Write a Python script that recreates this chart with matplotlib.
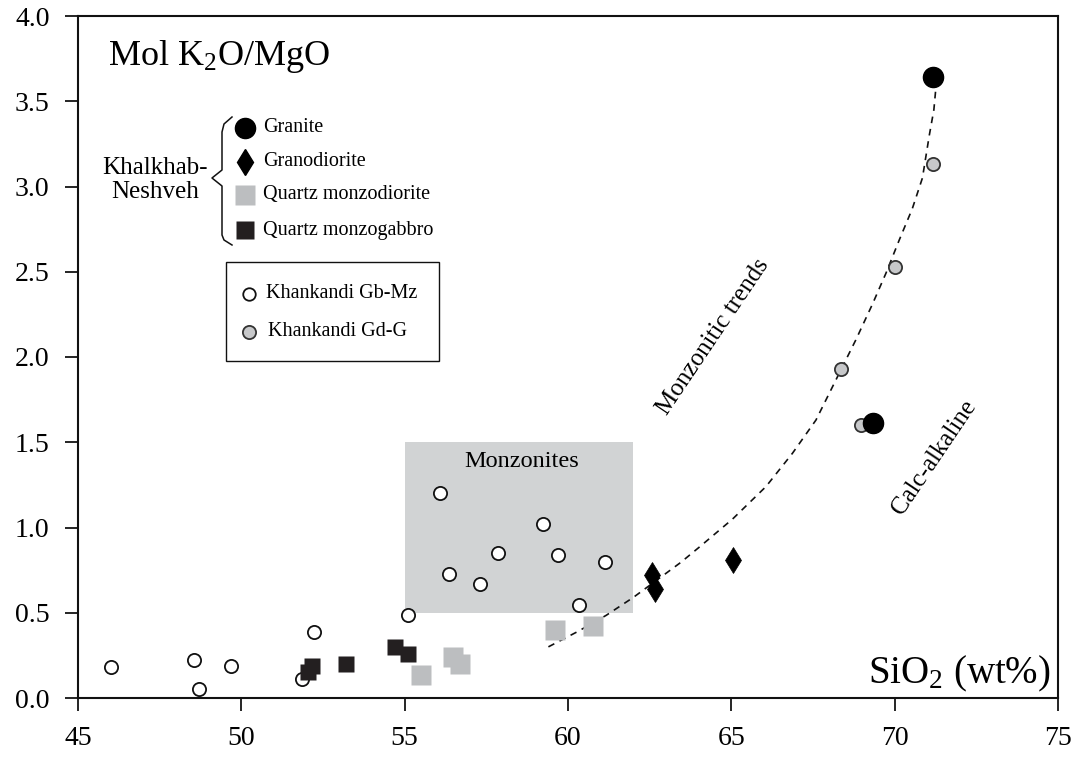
import numpy as np
import matplotlib
matplotlib.use('Agg')
import matplotlib.pyplot as plt
from matplotlib.patches import Rectangle

plt.rcParams['font.family'] = ['Liberation Serif', 'DejaVu Serif']
plt.rcParams['mathtext.default'] = 'regular'

# Khalkhab-Neshveh
granite_x = [71.16, 69.35]
granite_y = [3.64, 1.61]
grd_x = [62.56, 62.66, 65.05]
grd_y = [0.72, 0.64, 0.81]
qmzd_x = [59.6, 60.76, 56.48, 56.68, 55.51]
qmzd_y = [0.40, 0.42, 0.24, 0.20, 0.135]
qmzg_x = [54.70, 55.10, 53.20, 52.17, 52.05]
qmzg_y = [0.30, 0.26, 0.20, 0.19, 0.155]

# Khankandi
gbmz_x = [46.0, 48.54, 48.7, 49.69, 51.86, 52.22, 55.09,
          56.07, 56.35, 57.32, 57.87, 59.24, 59.70, 61.12, 60.35]
gbmz_y = [0.18, 0.22, 0.05, 0.185, 0.11, 0.39, 0.485,
          1.20, 0.725, 0.67, 0.85, 1.02, 0.84, 0.80, 0.545]
gdg_x = [71.16, 70.0, 68.37, 68.97]
gdg_y = [3.13, 2.53, 1.93, 1.60]

# monzonitic trend curve
trend_x = [59.4, 60.3, 61.17, 62.0, 62.85, 63.45, 64.02, 65.04, 66.06, 66.87,
           67.59, 68.2, 68.81, 69.32, 69.73, 70.14, 70.54, 70.85, 71.06, 71.2, 71.26]
trend_y = [0.30, 0.39, 0.485, 0.59, 0.71, 0.795, 0.885, 1.05, 1.24, 1.435,
           1.63, 1.865, 2.10, 2.31, 2.49, 2.686, 2.87, 3.05, 3.30, 3.45, 3.575]

monz_box = (55.0, 62.0, 0.5, 1.5)

xticks = [45, 50, 55, 60, 65, 70, 75]
yticks = [0.0, 0.5, 1.0, 1.5, 2.0, 2.5, 3.0, 3.5, 4.0]

c_sq_black = '#231f20'
c_sq_gray = '#bcbec0'
c_box = '#d1d3d4'
c_circ_gray = '#c7c8ca'

fig = plt.figure(figsize=(10.73, 7.58), dpi=100)
ax = fig.add_axes([78 / 1073, 60 / 758, 980 / 1073, 682 / 758])

ax.set_xlim(45, 75)
ax.set_ylim(0, 4.0)
ax.set_xticks(xticks)
ax.set_yticks(yticks)
ax.set_yticklabels([f'{v:.1f}' for v in yticks])
ax.tick_params(direction='out', length=9.5, width=1.2, labelsize=20, pad=11)
for s in ax.spines.values():
    s.set_linewidth(1.5)
    s.set_color('#111111')

x0, x1, y0, y1 = monz_box
ax.add_patch(Rectangle((x0, y0), x1 - x0, y1 - y0, facecolor=c_box, edgecolor='none', zorder=1))
ax.text((x0 + x1) / 2 + 0.08, 1.355, 'Monzonites', fontsize=17.5, ha='center', va='baseline', zorder=2)

ax.plot(trend_x, trend_y, color='#111111', lw=1.2, dashes=(4, 3.5), zorder=2)

mk = dict(ls='none', zorder=3)
ax.plot(gbmz_x, gbmz_y, marker='o', ms=9.5, mfc='white', mec='#111111', mew=1.3, **mk)
ax.plot(gdg_x, gdg_y, marker='o', ms=9.5, mfc=c_circ_gray, mec='#333333', mew=1.3, **mk)
ax.plot(qmzg_x, qmzg_y, marker='s', ms=11.5, mfc=c_sq_black, mec='none', **mk)
ax.plot(qmzd_x, qmzd_y, marker='s', ms=14, mfc=c_sq_gray, mec='none', **mk)
ax.plot(grd_x, grd_y, marker='d', ms=13.5, mfc='black', mec='black', mew=0.5, **mk)
ax.plot(granite_x, granite_y, marker='o', ms=14.5, mfc='black', mec='black', **mk)

ax.text(45.92, 3.71, 'Mol K$_2$O/MgO', fontsize=26, ha='left', va='baseline')
ax.text(0.992, 0.022, 'SiO$_2$ (wt%)', fontsize=28, ha='right', va='baseline', transform=ax.transAxes)

ax.text(64.45, 2.12, 'Monzonitic trends', fontsize=18, rotation=56,
        rotation_mode='anchor', ha='center', va='center')
ax.text(71.2, 1.41, 'Calc-alkaline', fontsize=18, rotation=56,
        rotation_mode='anchor', ha='center', va='center')

# legend (pixel layout converted to axes fraction)
def fx(px):
    return (px - 78) / 980

def fy(py):
    return (698 - py) / 682

T = ax.transAxes
lg = dict(transform=T, clip_on=False, ls='none', zorder=5)
ax.plot(fx(245), fy(128), marker='o', ms=14.5, mfc='black', mec='black', **lg)
ax.plot(fx(245), fy(162), marker='d', ms=13, mfc='black', mec='black', **lg)
ax.plot(fx(245), fy(195), marker='s', ms=14.5, mfc=c_sq_gray, mec='none', **lg)
ax.plot(fx(245), fy(230), marker='s', ms=13.5, mfc=c_sq_black, mec='none', **lg)
labels1 = ['Granite', 'Granodiorite', 'Quartz monzodiorite', 'Quartz monzogabbro']
for lab, py in zip(labels1, [128, 162, 195, 230]):
    ax.text(fx(263), fy(py), lab, fontsize=14.5, ha='left', va='center', transform=T)

ax.text(fx(155), fy(180), 'Khalkhab-\nNeshveh', fontsize=18, ha='center', va='center',
        multialignment='center', linespacing=1.15, transform=T)
brace_px = [(232, 117), (224, 124), (222, 132), (222, 170), (212, 178),
            (222, 186), (222, 235), (224, 240), (232, 245)]
ax.plot([fx(p[0]) for p in brace_px], [fy(p[1]) for p in brace_px],
        color='#111111', lw=1.1, transform=T, clip_on=False)

ax.add_patch(Rectangle((fx(226), fy(361)), fx(439) - fx(226), fy(262) - fy(361),
                       facecolor='white', edgecolor='#111111', lw=1.0, transform=T, zorder=4))
ax.plot(fx(249), fy(294), marker='o', ms=9, mfc='white', mec='#111111', mew=1.3, **lg)
ax.plot(fx(249), fy(332), marker='o', ms=9.5, mfc=c_circ_gray, mec='#333333', mew=1.3, **lg)
ax.text(fx(266), fy(294), 'Khankandi Gb-Mz', fontsize=14.5, ha='left', va='center', transform=T, zorder=6)
ax.text(fx(268), fy(332), 'Khankandi Gd-G', fontsize=14.5, ha='left', va='center', transform=T, zorder=6)

fig.savefig('out.png', dpi=100)
